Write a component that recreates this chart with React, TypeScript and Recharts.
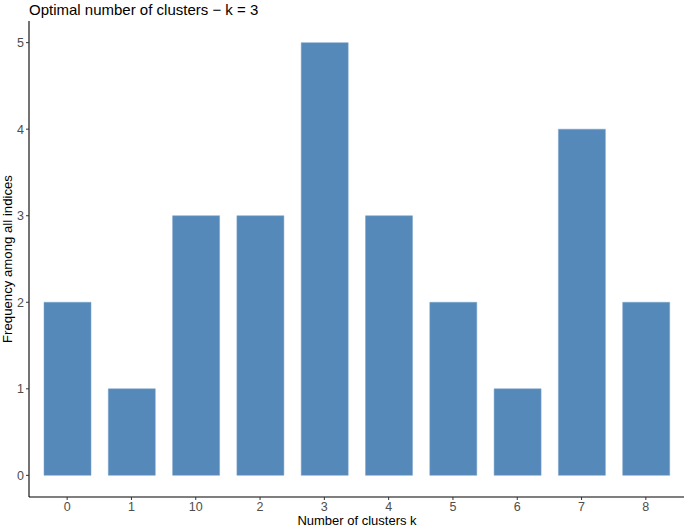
import { BarChart, Bar, XAxis, YAxis } from "recharts";

const clusters = ["0", "1", "10", "2", "3", "4", "5", "6", "7", "8"];
const frequency = [2, 1, 3, 3, 5, 3, 2, 1, 4, 2];
const yTicks = [0, 1, 2, 3, 4, 5];

const data = clusters.map((k, i) => ({ k, freq: frequency[i] }));

const font = "'Liberation Sans', Arial, sans-serif";
const tickStyle = { fontSize: 12.5, fill: "#4d4d4d", fontFamily: font };

export default function App() {
  return (
    <div style={{ position: "absolute", left: 0, top: 0, background: "#fff" }}>
      <BarChart
        width={685}
        height={528}
        data={data}
        margin={{ top: 21, right: 1, bottom: 0, left: 0 }}
        barSize={47}
      >
        <text x={29} y={15} fontSize={15} fontFamily={font} fill="#000">
          Optimal number of clusters − k = 3
        </text>
        <text
          x={0}
          y={0}
          transform="translate(12, 259) rotate(-90)"
          textAnchor="middle"
          fontSize={13.2}
          fontFamily={font}
          fill="#000"
        >
          Frequency among all indices
        </text>
        <text x={357} y={525} textAnchor="middle" fontSize={13} fontFamily={font} fill="#000">
          Number of clusters k
        </text>
        <XAxis
          dataKey="k"
          height={31}
          padding={{ left: 6, right: 6 }}
          tick={tickStyle}
          tickSize={3}
          tickLine={{ stroke: "#333" }}
          axisLine={{ stroke: "#000", strokeWidth: 1.1 }}
          interval={0}
        />
        <YAxis
          width={29}
          domain={[-0.25, 5.25]}
          ticks={yTicks}
          tick={tickStyle}
          tickSize={3}
          tickLine={{ stroke: "#333" }}
          axisLine={{ stroke: "#000", strokeWidth: 1.1 }}
          allowDataOverflow
        />
        <Bar dataKey="freq" fill="#5589b9" stroke="#7aa3cb" strokeWidth={0.5} isAnimationActive={false} />
      </BarChart>
    </div>
  );
}
